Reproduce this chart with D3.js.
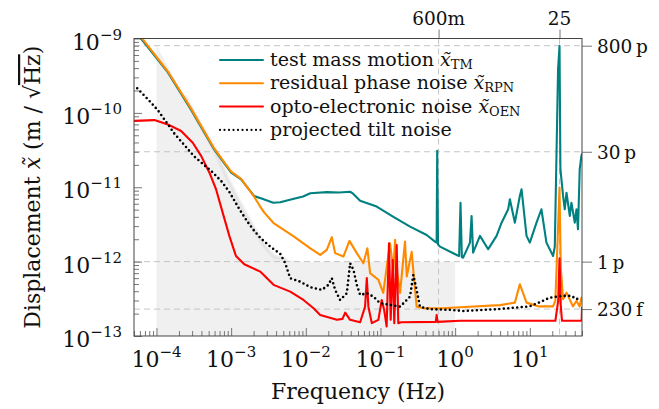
<!DOCTYPE html>
<html>
<head>
<meta charset="utf-8">
<script src="https://cdn.jsdelivr.net/npm/d3@7"></script>
<style>
  body { margin: 0; background: #fff; }
  text { font-family: "DejaVu Serif", serif; fill: #111; }
</style>
</head>
<body>
<div id="chart"></div>
<script>
// test mass motion
var tmFreq = [5e-5, 6.2e-5, 1.42e-4, 2.9e-4, 5.95e-4, 1.0e-3, 1.36e-3, 2.04e-3, 2.61e-3, 3.66e-3, 4.55e-3, 6.5e-3, 9.2e-3, 1.15e-2, 1.91e-2, 2.8e-2, 3.92e-2, 4.3e-2, 5.34e-2, 8.9e-2, 0.149, 0.249, 0.416, 0.537, 0.565, 0.575, 0.59, 0.627, 1.05, 1.13, 1.18, 1.23, 1.28, 1.58, 1.66, 1.74, 2.15, 2.77, 3.59, 4.19, 5.13, 5.41, 6.31, 7.35, 7.75, 9.04, 10, 12.3, 14.3, 16.7, 20.5, 21.6, 23.9, 25, 25.7, 27.9, 29.4, 31, 34.3, 36.1, 40, 42.1, 44.2, 46.6, 49.1, 50];
var tmAmp = [1.3e-9, 1.0e-9, 3.5e-10, 1.1e-10, 3.2e-11, 1.57e-11, 1.28e-11, 7.6e-12, 7.0e-12, 6.2e-12, 6.3e-12, 6.9e-12, 7.5e-12, 8.3e-12, 8.6e-12, 8.5e-12, 8.7e-12, 8.2e-12, 6.6e-12, 5.5e-12, 4.0e-12, 2.95e-12, 2.28e-12, 1.86e-12, 1.8e-12, 3.1e-11, 1.7e-12, 1.59e-12, 1.23e-12, 1.19e-12, 6.2e-12, 1.15e-12, 1.13e-12, 1.8e-12, 4.1e-12, 1.32e-12, 2.22e-12, 1.47e-12, 2.22e-12, 3.34e-12, 5.06e-12, 6.9e-12, 3.34e-12, 7.64e-12, 9.4e-12, 2.22e-12, 1.8e-12, 3.34e-12, 5.06e-12, 1.8e-12, 1.19e-12, 1.59e-12, 3.85e-10, 7.9e-10, 1.75e-11, 7.64e-12, 5.06e-12, 8.45e-12, 4.11e-12, 6.2e-12, 3.34e-12, 5.06e-12, 2.72e-12, 1.75e-11, 2.64e-11, 2.8e-11];

// residual phase noise
var rpnFreq = [5e-5, 6.2e-5, 1.42e-4, 2.9e-4, 5.95e-4, 1.0e-3, 1.36e-3, 2.04e-3, 2.45e-3, 2.78e-3, 3.7e-3, 6.8e-3, 1.15e-2, 1.56e-2, 1.91e-2, 2.23e-2, 2.47e-2, 3.19e-2, 3.84e-2, 4.82e-2, 5.9e-2, 6.68e-2, 7.26e-2, 9.37e-2, 0.109, 0.134, 0.149, 0.157, 0.168, 0.183, 0.213, 0.225, 0.262, 0.275, 0.305, 0.375, 0.694, 1.16, 3.97, 6.31, 7.35, 9.04, 13.2, 20.5, 22, 25, 26, 27.9, 31, 37.8, 42.1, 46.6, 49.1, 50];
var rpnAmp = [1.35e-9, 1.05e-9, 3.6e-10, 1.15e-10, 3.3e-11, 1.62e-11, 1.3e-11, 7.4e-12, 5.5e-12, 4.56e-12, 3.3e-12, 2.2e-12, 1.51e-12, 1.23e-12, 1.44e-12, 2.13e-12, 1.3e-12, 1.17e-12, 1.9e-12, 1.3e-12, 9.5e-13, 1.51e-12, 7.0e-13, 5.7e-13, 3.8e-13, 1.77e-12, 7.7e-13, 1.96e-12, 7.0e-13, 3.8e-13, 1.86e-12, 6.3e-13, 1.36e-12, 7.7e-13, 2.48e-13, 2.36e-13, 2.36e-13, 2.44e-13, 2.6e-13, 2.81e-13, 4.97e-13, 2.81e-13, 2.5e-13, 2.5e-13, 3.0e-13, 9.9e-12, 8e-13, 3.13e-13, 3.83e-13, 2.5e-13, 2.96e-13, 2.5e-13, 3.28e-13, 3.3e-13];

// opto-electronic noise
var oenFreq = [5e-5, 9.4e-5, 1.42e-4, 2.14e-4, 3.06e-4, 3.96e-4, 5.12e-4, 6.28e-4, 7.7e-4, 9.46e-4, 1.16e-3, 1.5e-3, 2.45e-3, 3.7e-3, 6.18e-3, 9.3e-3, 1.27e-2, 1.56e-2, 2.61e-2, 3.1e-2, 3.37e-2, 3.92e-2, 5.34e-2, 6.22e-2, 6.56e-2, 6.89e-2, 7.65e-2, 9.37e-2, 0.104, 0.112, 0.121, 0.130, 0.137, 0.146, 0.153, 0.165, 0.173, 0.190, 0.55, 0.566, 0.58, 1.16, 22, 24, 25, 26, 27, 48, 49.5, 50];
var oenAmp = [7.8e-11, 8.0e-11, 7.0e-11, 5.7e-11, 3.97e-11, 2.64e-11, 1.57e-11, 9.4e-12, 4.56e-12, 2.22e-12, 1.19e-12, 9.2e-13, 7.34e-13, 4.87e-13, 3.95e-13, 3.05e-13, 2.36e-13, 1.92e-13, 1.65e-13, 1.7e-13, 2.06e-13, 1.65e-13, 1.53e-13, 2.48e-13, 6.0e-13, 2.48e-13, 1.49e-13, 1.65e-13, 3.05e-13, 2.24e-13, 1.34e-13, 1.77e-12, 1.65e-13, 1.05e-12, 1.49e-13, 1.67e-12, 1.49e-13, 1.53e-13, 1.55e-13, 1.92e-13, 1.55e-13, 1.6e-13, 1.6e-13, 3e-13, 1.11e-12, 2.5e-13, 1.6e-13, 1.6e-13, 1.65e-13, 2.4e-13];

// projected tilt noise
var tiltFreq = [5.52e-5, 7.65e-5, 1.04e-4, 1.35e-4, 1.74e-4, 2.37e-4, 3.22e-4, 4.38e-4, 5.39e-4, 7.33e-4, 9.46e-4, 1.29e-3, 1.66e-3, 2.04e-3, 2.5e-3, 3.34e-3, 4.55e-3, 5.31e-3, 6.18e-3, 8.41e-3, 1.15e-2, 1.64e-2, 2.01e-2, 2.23e-2, 2.47e-2, 2.88e-2, 3.54e-2, 3.92e-2, 4.35e-2, 4.82e-2, 5.34e-2, 6.56e-2, 8.03e-2, 9.88e-2, 0.134, 0.183, 0.249, 0.275, 0.305, 0.338, 0.46, 0.851, 1.28, 3.59, 10, 13.2, 18.5, 27.9, 36.1, 42.1, 49.1];
var tiltAmp = [2.14e-10, 1.53e-10, 1.09e-10, 7.55e-11, 5.25e-11, 3.67e-11, 2.58e-11, 1.98e-11, 1.66e-11, 1.22e-11, 8.65e-12, 5.06e-12, 3.42e-12, 2.59e-12, 2.05e-12, 1.59e-12, 1.27e-12, 9.5e-13, 5.98e-13, 5.38e-13, 4.53e-13, 4.17e-13, 4.87e-13, 5.98e-13, 4.17e-13, 3.05e-13, 3.76e-13, 9.5e-13, 7.73e-13, 4.87e-13, 3.56e-13, 3.76e-13, 3.39e-13, 2.76e-13, 2.62e-13, 2.48e-13, 3.39e-13, 6.62e-13, 4.17e-13, 2.48e-13, 2.29e-13, 2.25e-13, 2.17e-13, 2.29e-13, 2.5e-13, 2.81e-13, 3.28e-13, 3.46e-13, 3.46e-13, 3.13e-13, 3.28e-13];

// requirement (grey area)
var reqFreq = [1e-4, 2.37e-4, 3.96e-4, 5.95e-4, 8.97e-4, 1.36e-3, 2.04e-3, 2.78e-3, 3.7e-3, 5.59e-3, 1e-2, 1];
var reqAmp = [8e-10, 1.69e-10, 6.67e-11, 3.24e-11, 1.28e-11, 5.61e-12, 2.72e-12, 1.63e-12, 1.17e-12, 1.05e-12, 1.0e-12, 1.0e-12];

var xTickExp = [-4, -3, -2, -1, 0, 1];
var yTickExp = [-13, -12, -11, -10, -9];
var rightTicks = [8e-10, 3e-11, 1e-12, 2.3e-13];
var rightLabels = ["800\u2009p", "30\u2009p", "1\u2009p", "230\u2009f"];
var topTicks = [0.6, 25];
var topLabels = ["600m", "25"];

var width = 659,
    height = 409,
    mLeft = 134, mRight = 582, mTop = 38.5, mBottom = 336;

var x = d3.scaleLog().domain([5e-5, 50]).range([mLeft, mRight]);
var y = d3.scaleLog().domain([1e-13, 1e-9]).range([mBottom, mTop]);

var svg = d3.select("#chart")
    .append("svg")
    .attr("width", width)
    .attr("height", height);

var defs = svg.append("defs");
defs.append("clipPath").attr("id", "clip")
    .append("rect")
    .attr("x", mLeft).attr("y", mTop)
    .attr("width", mRight - mLeft).attr("height", mBottom - mTop);
defs.append("filter").attr("id", "soft")
    .append("feGaussianBlur").attr("stdDeviation", 1.2);

function pairs(f, a) {
    return f.map(function (d, i) { return {f: d, v: a[i]}; });
}

// grey requirement region
var area = d3.area()
    .x(function (d) { return x(d.f); })
    .y0(y(1e-13))
    .y1(function (d) { return y(d.v); });

var reqLine = d3.line()
    .x(function (d) { return x(d.f); })
    .y(function (d) { return y(d.v); });

svg.append("path")
    .datum(pairs(reqFreq, reqAmp))
    .attr("clip-path", "url(#clip)")
    .attr("d", area)
    .style("fill", "#f0f0f0");

svg.append("path")
    .datum(pairs(reqFreq, reqAmp).slice(1, 10))
    .attr("clip-path", "url(#clip)")
    .attr("d", reqLine)
    .attr("fill", "none")
    .attr("stroke", "#e0e0e0")
    .attr("stroke-width", 3)
    .attr("filter", "url(#soft)");

// dashed extra grid lines
svg.selectAll(".hgrid")
    .data(rightTicks)
    .enter().append("line")
    .attr("x1", mLeft).attr("x2", mRight)
    .attr("y1", function (d) { return y(d); })
    .attr("y2", function (d) { return y(d); })
    .attr("stroke", "#c4c4c4")
    .attr("stroke-dasharray", "6,4");

svg.selectAll(".vgrid")
    .data(topTicks)
    .enter().append("line")
    .attr("y1", mTop).attr("y2", mBottom)
    .attr("x1", function (d) { return x(d); })
    .attr("x2", function (d) { return x(d); })
    .attr("stroke", "#c4c4c4")
    .attr("stroke-dasharray", "6,4");

// minor and major ticks
var minorX = [], minorY = [];
for (var e = -5; e <= 1; e++) {
    for (var k = 2; k <= 9; k++) {
        var v = k * Math.pow(10, e);
        if (v >= 5e-5 && v <= 50) minorX.push(v);
    }
}
for (var e2 = -13; e2 < -9; e2++) {
    for (var k2 = 2; k2 <= 9; k2++) minorY.push(k2 * Math.pow(10, e2));
}
var majorX = xTickExp.map(function (d) { return Math.pow(10, d); });
var majorY = yTickExp.map(function (d) { return Math.pow(10, d); });

function tickAxis(axis, tx, ty) {
    var g = svg.append("g")
        .attr("transform", "translate(" + tx + "," + ty + ")")
        .call(axis);
    g.select(".domain").remove();
    g.selectAll("line").attr("stroke", "#777");
}
tickAxis(d3.axisBottom(x).tickValues(minorX).tickSize(-5).tickFormat(""), 0, mBottom);
tickAxis(d3.axisBottom(x).tickValues(majorX).tickSize(-8).tickFormat(""), 0, mBottom);
tickAxis(d3.axisLeft(y).tickValues(minorY).tickSize(-5).tickFormat(""), mLeft, 0);
tickAxis(d3.axisLeft(y).tickValues(majorY).tickSize(-8).tickFormat(""), mLeft, 0);

// outside ticks for extra labels
tickAxis(d3.axisRight(y).tickValues(rightTicks).tickSize(10).tickFormat(""), mRight, 0);
tickAxis(d3.axisTop(x).tickValues(topTicks).tickSize(9).tickFormat(""), 0, mTop);

// curves
var line = d3.line()
    .x(function (d) { return x(d.f); })
    .y(function (d) { return y(d.v); });

var series = [
    {f: tmFreq, a: tmAmp, color: "#008080", dash: null},
    {f: rpnFreq, a: rpnAmp, color: "#ff8a00", dash: null},
    {f: oenFreq, a: oenAmp, color: "#ff0000", dash: null},
    {f: tiltFreq, a: tiltAmp, color: "#000", dash: "0,4.5"}
];

var plot = svg.append("g").attr("clip-path", "url(#clip)");
series.forEach(function (s) {
    plot.append("path")
        .datum(pairs(s.f, s.a))
        .attr("d", line)
        .attr("fill", "none")
        .attr("stroke", s.color)
        .attr("stroke-width", s.dash ? 2.6 : 2.1)
        .attr("stroke-linecap", "round")
        .attr("stroke-linejoin", "round")
        .attr("stroke-dasharray", s.dash);
});

// frame
svg.append("rect")
    .attr("x", mLeft).attr("y", mTop)
    .attr("width", mRight - mLeft).attr("height", mBottom - mTop)
    .attr("fill", "none")
    .attr("stroke", "#444")
    .attr("stroke-width", 1);

// tick labels
var xl = svg.selectAll(".xlab")
    .data(xTickExp)
    .enter().append("text")
    .attr("x", function (d) { return x(Math.pow(10, d)); })
    .attr("y", 367)
    .attr("text-anchor", "middle")
    .style("font-size", "22px");
xl.append("tspan").text("10");
xl.append("tspan").attr("dy", -10).style("font-size", "15px")
    .text(function (d) { return d < 0 ? "\u2212" + (-d) : d; });

var yl = svg.selectAll(".ylab")
    .data(yTickExp)
    .enter().append("text")
    .attr("x", 122)
    .attr("y", function (d) { return y(Math.pow(10, d)) + 11; })
    .attr("text-anchor", "end")
    .style("font-size", "22px");
yl.append("tspan").text("10");
yl.append("tspan").attr("dy", -10).style("font-size", "15px")
    .text(function (d) { return "\u2212" + (-d); });

svg.selectAll(".rlab")
    .data(rightTicks)
    .enter().append("text")
    .attr("x", 597)
    .attr("y", function (d) { return y(d) + 7; })
    .style("font-size", "18.5px")
    .text(function (d, i) { return rightLabels[i]; });

svg.selectAll(".tlab")
    .data(topTicks)
    .enter().append("text")
    .attr("x", function (d) { return x(d); })
    .attr("y", 25)
    .attr("text-anchor", "middle")
    .style("font-size", "18.5px")
    .text(function (d, i) { return topLabels[i]; });

// axis titles
svg.append("text")
    .attr("x", (mLeft + mRight) / 2)
    .attr("y", 399)
    .attr("text-anchor", "middle")
    .style("font-size", "22px")
    .text("Frequency (Hz)");

var yt = svg.append("text")
    .attr("transform", "translate(40," + (mTop + mBottom) / 2 + ") rotate(-90)")
    .attr("text-anchor", "middle")
    .style("font-size", "22px");
yt.append("tspan").text("Displacement ");
yt.append("tspan").style("font-style", "italic").text("x\u0303");
yt.append("tspan").text(" (m / \u221A");
yt.append("tspan").style("text-decoration", "overline").text("Hz");
yt.append("tspan").text(")");

// legend
var legendItems = [
    {label: "test mass motion ", sub: "TM", color: "#008080", dash: null},
    {label: "residual phase noise ", sub: "RPN", color: "#ff8a00", dash: null},
    {label: "opto-electronic noise ", sub: "OEN", color: "#ff0000", dash: null},
    {label: "projected tilt noise", sub: null, color: "#000", dash: "0,4.5"}
];
var lg = svg.selectAll(".legend")
    .data(legendItems)
    .enter().append("g")
    .attr("transform", function (d, i) { return "translate(220," + (60 + i * 23.3) + ")"; });
lg.append("line")
    .attr("x1", 0).attr("x2", 43)
    .attr("stroke", function (d) { return d.color; })
    .attr("stroke-width", function (d) { return d.dash ? 2.2 : 2; })
    .attr("stroke-linecap", "round")
    .attr("stroke-dasharray", function (d) { return d.dash; });
var lt = lg.append("text")
    .attr("x", 50)
    .attr("y", 6)
    .style("font-size", "19px");
lt.append("tspan").text(function (d) { return d.label; });
lt.filter(function (d) { return d.sub; })
    .append("tspan").style("font-style", "italic").text("x\u0303");
lt.filter(function (d) { return d.sub; })
    .append("tspan").attr("dy", 3).style("font-size", "13px")
    .text(function (d) { return d.sub; });
</script>
</body>
</html>
